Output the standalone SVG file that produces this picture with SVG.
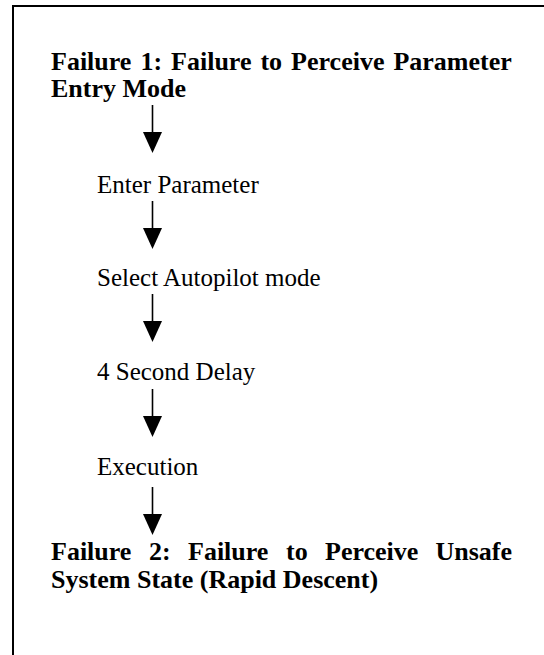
<svg xmlns="http://www.w3.org/2000/svg" width="544" height="655" viewBox="0 0 544 655">
<style>
.b{font-family:"Liberation Serif","Times New Roman",serif;font-weight:bold;font-size:26px;fill:#000}
.r{font-family:"Liberation Serif","Times New Roman",serif;font-size:25px;fill:#000}
.sh{stroke:#000;stroke-width:1.6;fill:none}
.hd{fill:#000}
</style>
<defs>
<g id="arrow"><line class="sh" x1="0" y1="0" x2="0" y2="29"/><polygon class="hd" points="-9.5,27 9.5,27 0,48"/></g>
</defs>
<rect width="544" height="655" fill="#fff"/>
<g id="frame"><path d="M13 655 V6 H544" fill="none" stroke="#000" stroke-width="2"/></g>
<g id="failure1"><text class="b" x="51" y="70" word-spacing="2.5">Failure 1: Failure to Perceive Parameter</text><text class="b" x="51" y="97">Entry Mode</text></g>
<g id="enter"><text class="r" x="97" y="193">Enter Parameter</text></g>
<g id="select"><text class="r" x="97" y="286">Select Autopilot mode</text></g>
<g id="delay"><text class="r" x="97" y="380">4 Second Delay</text></g>
<g id="execution"><text class="r" x="97" y="475">Execution</text></g>
<g id="failure2"><text class="b" y="560"><tspan x="51">Failure</tspan><tspan x="149">2:</tspan><tspan x="188">Failure</tspan><tspan x="286">to</tspan><tspan x="325">Perceive</tspan></text><text class="b" x="512" y="560" text-anchor="end">Unsafe</text><text class="b" x="51" y="588">System State (Rapid Descent)</text></g>
<g id="connectors">
<use href="#arrow" x="152.5" y="105"/>
<use href="#arrow" x="152.5" y="201"/>
<use href="#arrow" x="152.5" y="294"/>
<use href="#arrow" x="152.5" y="389"/>
<use href="#arrow" x="152.5" y="487"/>
</g>
</svg>
